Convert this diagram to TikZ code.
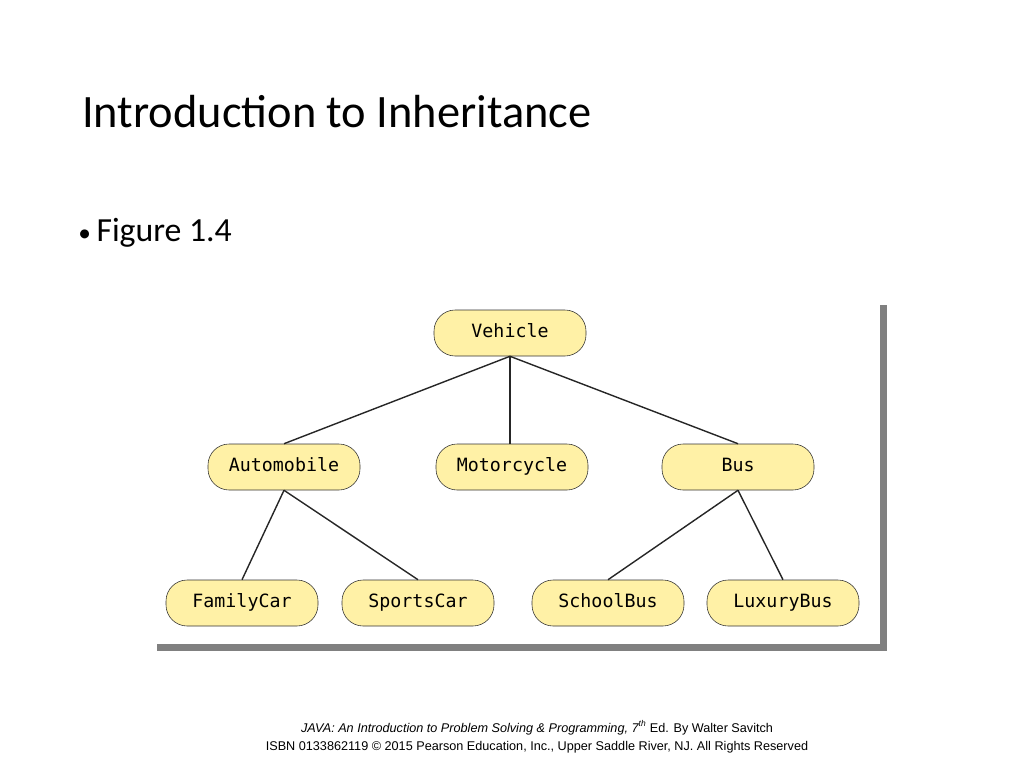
\documentclass[tikz,border=0pt]{standalone}
\usepackage{fontspec}
\setmainfont{Carlito}
\setsansfont{Liberation Sans}
\setmonofont{DejaVu Sans Mono}
\usetikzlibrary{positioning}
\definecolor{clsfill}{HTML}{FFF1A6}
\tikzset{
  cls/.style={draw=black!80, fill=clsfill, rounded corners=15pt,
    minimum width=152*0.025cm, minimum height=46*0.025cm, inner sep=0pt,
    text height=1.6ex, text depth=0.3ex,
    font=\ttfamily\fontsize{13}{15}\selectfont},
  link/.style={draw=black!85, line width=1pt},
  shade/.style={fill=black!50}
}
\begin{document}
\begin{tikzpicture}[x=0.025cm,y=-0.025cm]
  \useasboundingbox (0,0) rectangle (1024,768);
  \node[anchor=base west, inner sep=0pt, font=\fontsize{33}{36}\selectfont] (title) at (82,128) {Introduction to Inheritance};
  \node[anchor=base west, inner sep=0pt, font=\fontsize{24}{28}\selectfont] (fig) at (78,241) {{\fontsize{18}{20}\selectfont•}\,Figure 1.4};
  % frame shadow
  \fill[shade] (157,644) rectangle (887,651);
  \fill[shade] (880,305) rectangle (887,651);
  % classes
  \node[cls] (vehicle) at (510,333) {Vehicle};
  \node[cls] (auto) at (284,467) {Automobile};
  \node[cls] (moto) at (512,467) {Motorcycle};
  \node[cls] (bus) at (738,467) {Bus};
  \node[cls] (family) at (242,603) {FamilyCar};
  \node[cls] (sports) at (418,603) {SportsCar};
  \node[cls] (school) at (608,603) {SchoolBus};
  \node[cls] (luxury) at (783,603) {LuxuryBus};
  \draw[link] (vehicle.south) -- (auto.north);
  \draw[link] (vehicle.south) -- (moto.north -| vehicle.south);
  \draw[link] (vehicle.south) -- (bus.north);
  \draw[link] (auto.south) -- (family.north);
  \draw[link] (auto.south) -- (sports.north);
  \draw[link] (bus.south) -- (school.north);
  \draw[link] (bus.south) -- (luxury.north);
  % footer
  \node[align=center, font=\sffamily\fontsize{9}{13}\selectfont] (foot) at (537,737)
    {\textit{JAVA: An Introduction to Problem Solving \& Programming, 7\textsuperscript{th}} Ed. By Walter Savitch\\
     ISBN 0133862119 © 2015 Pearson Education, Inc., Upper Saddle River, NJ. All Rights Reserved};
\end{tikzpicture}
\end{document}
